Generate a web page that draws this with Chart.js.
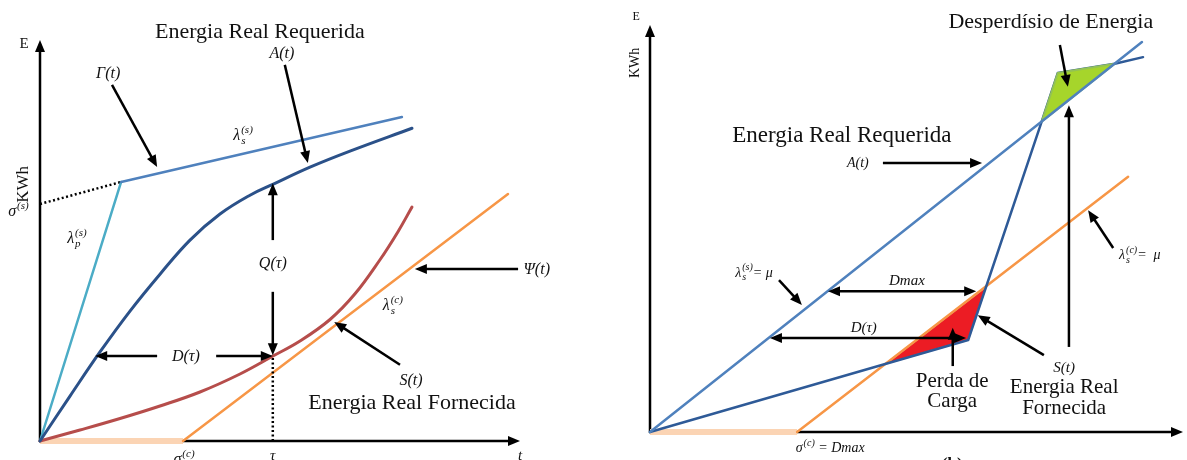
<!DOCTYPE html>
<html>
<head>
<meta charset="utf-8">
<script src="https://cdn.jsdelivr.net/npm/chart.js@4.4.1/dist/chart.umd.min.js"></script>
<style>
  html, body { margin: 0; padding: 0; background: #fff; }
  #wrap { position: relative; width: 1187px; height: 460px; overflow: hidden; }
  #left { position: absolute; left: 0; top: 0; }
  #right { position: absolute; left: 593px; top: 0; }
</style>
</head>
<body>
<div id="wrap">
  <canvas id="left" width="593" height="460"></canvas>
  <canvas id="right" width="594" height="460"></canvas>
</div>
<script>
/* ── Data: panel (a), time 0..10, energy 0..10 ───────────── */

const aDemandX = [0, 0.625, 1.25, 1.875, 2.5, 3.125, 3.75, 4.375, 4.85, 5.625, 6.458, 7.75];
const aDemandY = [0, 1.12, 2.22, 3.24, 4.16, 5.01, 5.66, 6.13, 6.40, 6.83, 7.23, 7.80];
const aSupplyX = [0, 0.833, 1.667, 2.5, 3.333, 4.167, 4.854, 5.417, 6.042, 6.563, 7.083, 7.458, 7.75];
const aSupplyY = [0, 0.274, 0.561, 0.873, 1.222, 1.671, 2.119, 2.494, 3.03, 3.67, 4.52, 5.22, 5.835];
const aPeakX = [0, 1.69];
const aPeakY = [0, 6.46];
const aGammaX = [1.69, 7.54];
const aGammaY = [6.46, 8.08];
const aSigmaX = [0, 1.69];
const aSigmaY = [5.91, 6.46];
const aPsiX = [2.98, 9.75];
const aPsiY = [0, 6.16];
const aDelayX = [0, 2.98];
const aDelayY = [0, 0];
const aTauX = [4.85, 4.85];
const aTauY = [0, 2.12];

/* ── Data: panel (b) ─────────────────────────────────────── */

const bDemandX = [0, 9.23];
const bDemandY = [0, 9.58];
const bSupplyX = [0, 5.97, 7.35, 7.65, 8.72, 9.25];
const bSupplyY = [0, 2.26, 7.63, 8.82, 9.05, 9.21];
const bCurveX = [2.76, 8.97];
const bCurveY = [0, 6.27];
const bDelayX = [0, 2.76];
const bDelayY = [0, 0];
const bLossX = [4.42, 5.97, 6.31, 4.42];
const bLossY = [1.67, 2.26, 3.58, 1.67];
const bWasteX = [7.35, 7.65, 8.72, 7.35];
const bWasteY = [7.63, 8.82, 9.05, 7.63];

/* ── Helpers ─────────────────────────────────────────────── */

const SERIF = '"Liberation Serif", "Times New Roman", serif';
const pts = (xs, ys) => xs.map((x, i) => ({ x, y: ys[i] }));

function line(xs, ys, color, width, order, extra) {
  return Object.assign({
    data: pts(xs, ys),
    showLine: true,
    borderColor: color,
    borderWidth: width,
    pointRadius: 0,
    fill: false,
    clip: false,
    order,
  }, extra || {});
}

function arrowHead(ctx, x1, y1, x2, y2, len, half) {
  const a = Math.atan2(y2 - y1, x2 - x1);
  ctx.beginPath();
  ctx.moveTo(x2, y2);
  ctx.lineTo(x2 - len * Math.cos(a) + half * Math.sin(a), y2 - len * Math.sin(a) - half * Math.cos(a));
  ctx.lineTo(x2 - len * Math.cos(a) - half * Math.sin(a), y2 - len * Math.sin(a) + half * Math.cos(a));
  ctx.closePath();
  ctx.fill();
}

function arrow(ctx, x1, y1, x2, y2, both, len, half) {
  const a = Math.atan2(y2 - y1, x2 - x1);
  const sx = both ? x1 + (len - 2) * Math.cos(a) : x1;
  const sy = both ? y1 + (len - 2) * Math.sin(a) : y1;
  ctx.beginPath();
  ctx.moveTo(sx, sy);
  ctx.lineTo(x2 - (len - 2) * Math.cos(a), y2 - (len - 2) * Math.sin(a));
  ctx.stroke();
  arrowHead(ctx, x1, y1, x2, y2, len, half);
  if (both) arrowHead(ctx, x2, y2, x1, y1, len, half);
}

// segs: strings (italic) or {sub, sup} script blocks
function drawRich(ctx, x, y, segs, size) {
  const main = `italic ${size}px ${SERIF}`;
  const small = `italic ${Math.round(size * 0.7)}px ${SERIF}`;
  const widths = segs.map(s => {
    if (typeof s === 'string') { ctx.font = main; return ctx.measureText(s).width; }
    ctx.font = small;
    return Math.max(ctx.measureText(s.sub || '').width, ctx.measureText(s.sup || '').width) + 1;
  });
  let cx = x - widths.reduce((a, b) => a + b, 0) / 2;
  const base = y + size * 0.32;
  ctx.textAlign = 'left';
  ctx.textBaseline = 'alphabetic';
  segs.forEach((s, i) => {
    if (typeof s === 'string') {
      ctx.font = main;
      ctx.fillText(s, cx, base);
    } else {
      ctx.font = small;
      if (s.sup) ctx.fillText(s.sup, cx + 1, base - size * 0.45);
      if (s.sub) ctx.fillText(s.sub, cx + 1, base + size * 0.22);
    }
    cx += widths[i];
  });
}

function diagram(cfg) {
  return {
    id: 'diagram',
    beforeDatasetsDraw(chart) {
      const { ctx, scales: { x, y } } = chart;
      const x0 = x.getPixelForValue(0), y0 = y.getPixelForValue(0);
      const xm = x.getPixelForValue(x.max), ym = y.getPixelForValue(y.max);
      ctx.save();
      ctx.strokeStyle = '#000';
      ctx.fillStyle = '#000';
      ctx.lineWidth = 2.5;
      arrow(ctx, x0, y0 + 1, x0, ym, false, 12, 5);
      arrow(ctx, x0 - 1, y0, xm, y0, false, 12, 5);
      ctx.restore();
    },
    afterDatasetsDraw(chart) {
      const { ctx, scales: { x, y } } = chart;
      const px = v => x.getPixelForValue(v), py = v => y.getPixelForValue(v);
      ctx.save();
      ctx.strokeStyle = '#000';
      ctx.fillStyle = '#000';
      ctx.lineWidth = 2.5;
      cfg.arrows.forEach(a => arrow(ctx, px(a[0]), py(a[1]), px(a[2]), py(a[3]), a[4], 12, 5));
      cfg.labels.forEach(l => {
        ctx.save();
        ctx.translate(px(l.x), py(l.y));
        if (l.rot) ctx.rotate(l.rot * Math.PI / 180);
        ctx.fillStyle = '#111';
        if (l.segs) {
          drawRich(ctx, 0, 0, l.segs, l.size);
        } else {
          ctx.font = `${l.bold ? 'bold ' : ''}${l.size}px ${SERIF}`;
          ctx.textAlign = 'center';
          ctx.textBaseline = 'middle';
          ctx.fillText(l.text, 0, 0);
        }
        ctx.restore();
      });
      ctx.restore();
    },
  };
}

function baseOptions(padding) {
  return {
    responsive: false,
    animation: false,
    layout: { padding },
    plugins: { legend: { display: false }, tooltip: { enabled: false } },
    scales: {
      x: { type: 'linear', min: 0, max: 10, display: false },
      y: { type: 'linear', min: 0, max: 10, display: false },
    },
    elements: { line: { borderCapStyle: 'round', borderJoinStyle: 'round' } },
  };
}

/* ── Panel (a) ───────────────────────────────────────────── */

const aArrows = [
  [1.5, 8.88, 2.44, 6.83],
  [5.1, 9.38, 5.58, 6.93],
  [4.85, 5.01, 4.85, 6.43],
  [4.85, 3.72, 4.85, 2.14],
  [2.44, 2.12, 1.15, 2.12],
  [3.67, 2.12, 4.85, 2.12],
  [9.96, 4.29, 7.81, 4.29],
  [7.5, 1.9, 6.13, 2.97],
];
const aLabels = [
  { x: -0.33, y: 9.9, text: 'E', size: 15 },
  { x: -0.35, y: 6.4, text: 'KWh', size: 17, rot: -90 },
  { x: -0.45, y: 5.74, segs: ['σ', { sup: '(s)' }], size: 16 },
  { x: 4.58, y: 10.2, text: 'Energia Real Requerida', size: 22 },
  { x: 1.42, y: 9.18, segs: ['Γ(t)'], size: 16 },
  { x: 5.04, y: 9.68, segs: ['A(t)'], size: 16 },
  { x: 4.23, y: 7.63, segs: ['λ', { sub: 's', sup: '(s)' }], size: 16 },
  { x: 0.77, y: 5.06, segs: ['λ', { sub: 'p', sup: '(s)' }], size: 16 },
  { x: 4.85, y: 4.44, segs: ['Q(τ)'], size: 16 },
  { x: 3.04, y: 2.12, segs: ['D(τ)'], size: 16 },
  { x: 10.35, y: 4.29, segs: ['Ψ(t)'], size: 16 },
  { x: 7.35, y: 3.39, segs: ['λ', { sub: 's', sup: '(c)' }], size: 16 },
  { x: 7.73, y: 1.52, segs: ['S(t)'], size: 16 },
  { x: 7.75, y: 0.95, text: 'Energia Real Fornecida', size: 22 },
  { x: 4.85, y: -0.36, segs: ['τ'], size: 15 },
  { x: 10.0, y: -0.36, segs: ['t'], size: 15 },
  { x: 3.0, y: -0.45, segs: ['σ', { sup: '(c)' }], size: 16 },
];

new Chart(document.getElementById('left'), {
  type: 'scatter',
  data: {
    datasets: [
      line(aDelayX, aDelayY, '#fbd4b4', 6, 10, { borderCapStyle: 'butt' }),
      line(aPsiX, aPsiY, '#f79646', 2.5, 9),
      line(aSigmaX, aSigmaY, '#000', 2.5, 8, { borderDash: [2, 2.5], borderCapStyle: 'butt' }),
      line(aTauX, aTauY, '#000', 2.5, 8, { borderDash: [2, 2.5], borderCapStyle: 'butt' }),
      line(aPeakX, aPeakY, '#4bacc6', 2.5, 7),
      line(aGammaX, aGammaY, '#4f81bd', 2.5, 6),
      line(aSupplyX, aSupplyY, '#b64d4b', 3, 5, { tension: 0.4 }),
      line(aDemandX, aDemandY, '#2b5189', 3, 4, { tension: 0.4 }),
    ],
  },
  options: baseOptions({ left: 40, right: 73, top: 40, bottom: 19 }),
  plugins: [diagram({ arrows: aArrows, labels: aLabels })],
});

/* ── Panel (b) ───────────────────────────────────────────── */

const bArrows = [
  [4.37, 6.61, 6.23, 6.61],
  [2.42, 3.73, 2.85, 3.12],
  [3.34, 3.46, 6.12, 3.46, true],
  [2.25, 2.31, 5.93, 2.31, true],
  [5.68, 1.62, 5.68, 2.56],
  [7.39, 1.89, 6.15, 2.87],
  [7.69, 9.51, 7.84, 8.48],
  [7.86, 2.09, 7.86, 8.03],
  [8.69, 4.52, 8.22, 5.45],
];
const bLabels = [
  { x: -0.26, y: 10.2, text: 'E', size: 12 },
  { x: -0.28, y: 9.07, text: 'KWh', size: 14, rot: -90 },
  { x: 7.52, y: 10.07, text: 'Desperdísio de Energia', size: 22 },
  { x: 3.6, y: 7.27, text: 'Energia Real Requerida', size: 23 },
  { x: 3.9, y: 6.61, segs: ['A(t)'], size: 14 },
  { x: 1.95, y: 3.93, segs: ['λ', { sub: 's', sup: '(s)' }, '= μ'], size: 14 },
  { x: 4.82, y: 3.73, segs: ['Dmax'], size: 15 },
  { x: 4.01, y: 2.58, segs: ['D(τ)'], size: 15 },
  { x: 5.67, y: 1.23, text: 'Perda de', size: 21 },
  { x: 5.67, y: 0.74, text: 'Carga', size: 21 },
  { x: 7.77, y: 1.6, segs: ['S(t)'], size: 15 },
  { x: 7.77, y: 1.1, text: 'Energia Real', size: 21 },
  { x: 7.77, y: 0.59, text: 'Fornecida', size: 21 },
  { x: 9.19, y: 4.35, segs: ['λ', { sub: 's', sup: '(c)' }, '=  μ'], size: 14 },
  { x: 3.38, y: -0.39, segs: ['σ', { sup: '(c)' }, ' = Dmax'], size: 14 },
  { x: 5.67, y: -0.8, text: '(b)', size: 17, bold: true },
];

new Chart(document.getElementById('right'), {
  type: 'scatter',
  data: {
    datasets: [
      line(bDelayX, bDelayY, '#fbd4b4', 6, 10, { borderCapStyle: 'butt' }),
      line(bLossX, bLossY, 'rgba(205,205,205,0.9)', 1.5, 9, { fill: 'shape', backgroundColor: '#ec1c24' }),
      line(bCurveX, bCurveY, '#f79646', 2.5, 8),
      line(bSupplyX, bSupplyY, '#2e5a97', 2.5, 7),
      line(bWasteX, bWasteY, '#93c256', 2, 6, { fill: 'shape', backgroundColor: '#a6d52b' }),
      line(bDemandX, bDemandY, '#4f81bd', 2.5, 5),
    ],
  },
  options: baseOptions({ left: 57, right: 4, top: 25, bottom: 28 }),
  plugins: [diagram({ arrows: bArrows, labels: bLabels })],
});
</script>
</body>
</html>
